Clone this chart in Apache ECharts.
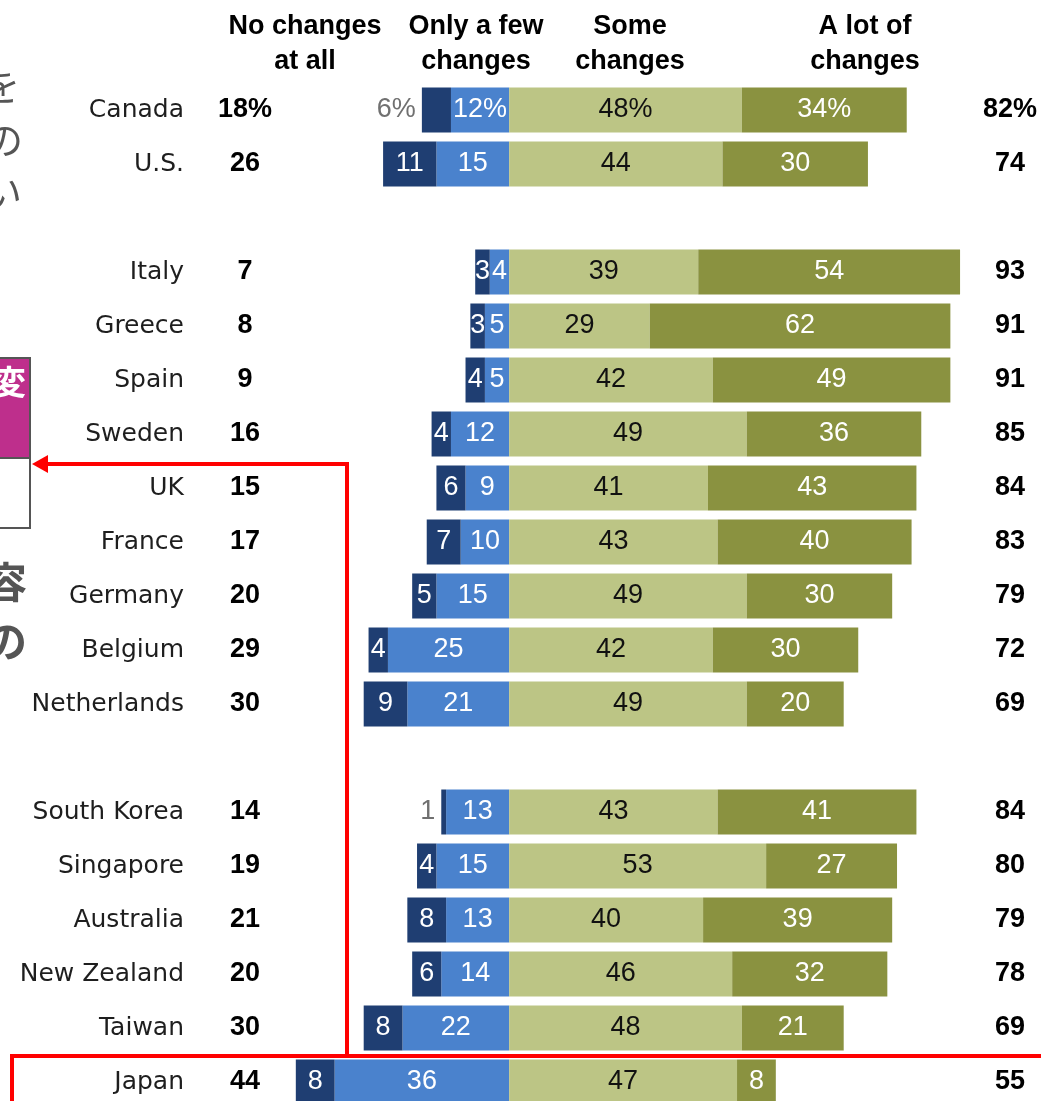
<!DOCTYPE html>
<html>
<head>
<meta charset="utf-8">
<script src="https://cdn.jsdelivr.net/npm/echarts@6/dist/echarts.min.js"></script>
<style>
  html, body { margin: 0; padding: 0; background: #ffffff; }
  #chart { width: 1041px; height: 1101px; }
</style>
</head>
<body>
<div id="chart"></div>
<script>
// Rows (top to bottom); blank strings are spacer rows between regional groups
const countries = ['Canada', 'U.S.', '', 'Italy', 'Greece', 'Spain', 'Sweden', 'UK', 'France',
  'Germany', 'Belgium', 'Netherlands', ' ', 'South Korea', 'Singapore', 'Australia',
  'New Zealand', 'Taiwan', 'Japan'];

// Shares of respondents (%)
const noChanges   = [6, 11, null, 3, 3, 4, 4, 6, 7, 5, 4, 9, null, 1, 4, 8, 6, 8, 8];
const fewChanges  = [12, 15, null, 4, 5, 5, 12, 9, 10, 15, 25, 21, null, 13, 15, 13, 14, 22, 36];
const someChanges = [48, 44, null, 39, 29, 42, 49, 41, 43, 49, 42, 49, null, 43, 53, 40, 46, 48, 47];
const lotChanges  = [34, 30, null, 54, 62, 49, 36, 43, 40, 30, 30, 20, null, 41, 27, 39, 32, 21, 8];

// Net totals shown beside the bars
const netNoneOrFew = ['18%', '26', '', '7', '8', '9', '16', '15', '17', '20', '29', '30', ' ',
  '14', '19', '21', '20', '30', '44'];
const netSomeOrLot = ['82%', '74', '', '93', '91', '91', '85', '84', '83', '79', '72', '69', ' ',
  '84', '80', '79', '78', '69', '55'];

// Header texts for the four answer categories
const headers = ['No changes\nat all', 'Only a few\nchanges', 'Some\nchanges', 'A lot of\nchanges'];

// Row whose labels carry a percent sign, and rows whose first segment label sits outside the bar
const percentRow = 'Canada';
const outsideNoneLabel = ['Canada', 'South Korea'];

const COLORS = { none: '#1f3e72', few: '#4a82cd', some: '#bcc585', lot: '#8a9240' };
const BAR_FONT = 'Liberation Sans, Arial, sans-serif';
const BOLD_FONT = 'Liberation Sans, Arial, sans-serif';

function fmt(p) {
  if (p.value == null) return '';
  const v = Math.abs(p.value);
  return countries[p.dataIndex] === percentRow ? v + '%' : String(v);
}

function negData(arr, outsideList) {
  return arr.map((v, i) => {
    if (v == null) return null;
    const item = { value: -v };
    if (outsideList && outsideList.indexOf(countries[i]) >= 0) {
      item.label = { position: 'left', distance: 6, color: '#707070' };
    }
    return item;
  });
}

function barLabel(color) {
  return {
    show: true,
    position: 'inside',
    formatter: fmt,
    color: color,
    fontFamily: BAR_FONT,
    fontSize: 27
  };
}

const chart = echarts.init(document.getElementById('chart'), null, { renderer: 'canvas' });

const option = {
  animation: false,
  backgroundColor: '#ffffff',
  grid: { left: 194, width: 800, top: 83, height: 1026, containLabel: false, outerBoundsMode: 'none' },
  xAxis: { type: 'value', min: -65, max: 100, show: false },
  yAxis: [
    {
      type: 'category', inverse: true, data: countries, position: 'left',
      axisLine: { show: false }, axisTick: { show: false }, splitLine: { show: false },
      axisLabel: { margin: 10, color: '#1e1e1e', fontFamily: 'DejaVu Sans, sans-serif', fontSize: 25 }
    },
    {
      type: 'category', inverse: true, data: netNoneOrFew, position: 'left', offset: -51,
      axisLine: { show: false }, axisTick: { show: false }, splitLine: { show: false },
      axisLabel: { margin: 0, align: 'center', color: '#000', fontFamily: BOLD_FONT, fontWeight: 'bold', fontSize: 27 }
    },
    {
      type: 'category', inverse: true, data: netSomeOrLot, position: 'right',
      axisLine: { show: false }, axisTick: { show: false }, splitLine: { show: false },
      axisLabel: { margin: 16, align: 'center', color: '#000', fontFamily: BOLD_FONT, fontWeight: 'bold', fontSize: 27 }
    }
  ],
  series: [
    {
      name: 'Only a few changes', type: 'bar', stack: 'total', barWidth: 45,
      data: negData(fewChanges), itemStyle: { color: COLORS.few }, label: barLabel('#ffffff')
    },
    {
      name: 'No changes at all', type: 'bar', stack: 'total', barWidth: 45,
      data: negData(noChanges, outsideNoneLabel), itemStyle: { color: COLORS.none }, label: barLabel('#ffffff')
    },
    {
      name: 'Some changes', type: 'bar', stack: 'total', barWidth: 45,
      data: someChanges, itemStyle: { color: COLORS.some }, label: barLabel('#111111')
    },
    {
      name: 'A lot of changes', type: 'bar', stack: 'total', barWidth: 45,
      data: lotChanges, itemStyle: { color: COLORS.lot }, label: barLabel('#ffffff')
    }
  ],
  graphic: [
    // column headers
    ...[305, 476, 630, 865].map((cx, i) => ({
      type: 'text', x: cx, y: 9,
      style: { text: headers[i], align: 'center', verticalAlign: 'top', lineHeight: 35,
        fontFamily: BOLD_FONT, fontWeight: 'bold', fontSize: 27, fill: '#000' }
    })),
    // slide text running in from the left margin
    { type: 'text', x: 20, y: 86, style: { text: 'を', align: 'right', verticalAlign: 'middle',
      fontFamily: 'Noto Sans CJK JP', fontSize: 38, fill: '#555' } },
    { type: 'text', x: 23, y: 140, style: { text: 'の', align: 'right', verticalAlign: 'middle',
      fontFamily: 'Noto Sans CJK JP', fontSize: 38, fill: '#555' } },
    { type: 'text', x: 22, y: 192, style: { text: 'い', align: 'right', verticalAlign: 'middle',
      fontFamily: 'Noto Sans CJK JP', fontSize: 38, fill: '#555' } },
    { type: 'rect', shape: { x: -10, y: 358, width: 40, height: 100 },
      style: { fill: '#be2f8c', stroke: '#555', lineWidth: 2 } },
    { type: 'rect', shape: { x: -10, y: 458, width: 40, height: 70 },
      style: { fill: '#ffffff', stroke: '#555', lineWidth: 2 } },
    { type: 'text', x: 26, y: 382, style: { text: '変', align: 'right', verticalAlign: 'middle',
      fontFamily: 'Noto Sans CJK JP', fontWeight: 'bold', fontSize: 34, fill: '#fff' } },
    { type: 'text', x: 27, y: 582, style: { text: '容', align: 'right', verticalAlign: 'middle',
      fontFamily: 'Noto Sans CJK JP', fontWeight: 'bold', fontSize: 42, fill: '#555' } },
    { type: 'text', x: 27, y: 641, style: { text: 'の', align: 'right', verticalAlign: 'middle',
      fontFamily: 'Noto Sans CJK JP', fontWeight: 'bold', fontSize: 42, fill: '#555' } },
    // red callout: line from the highlighted row up and over to the box
    { type: 'polyline', shape: { points: [[347, 1056], [347, 464], [44, 464]] },
      style: { stroke: '#ff0000', lineWidth: 4, fill: null } },
    { type: 'polygon', shape: { points: [[32, 464], [48, 455], [48, 473]] },
      style: { fill: '#ff0000' } },
    { type: 'rect', shape: { x: 12, y: 1056, width: 1100, height: 120 },
      style: { fill: null, stroke: '#ff0000', lineWidth: 4 }, z: 100 }
  ]
};

chart.setOption(option);
</script>
</body>
</html>
